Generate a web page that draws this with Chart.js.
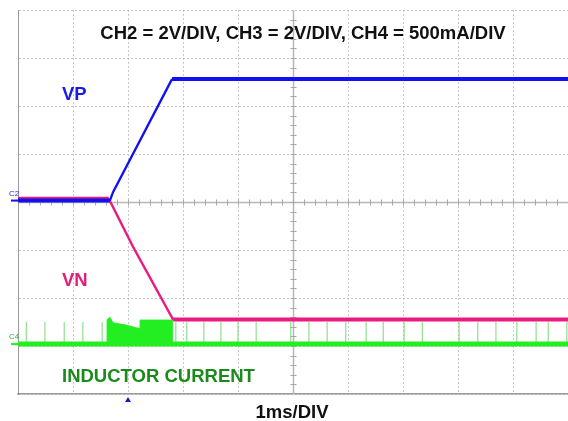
<!DOCTYPE html>
<html>
<head>
<meta charset="utf-8">
<script src="https://cdn.jsdelivr.net/npm/chart.js@4.4.0/dist/chart.umd.min.js"></script>
<style>
  html, body { margin: 0; padding: 0; background: #fff; }
  #scope { display: block; }
</style>
</head>
<body>
<canvas id="scope" width="568" height="421" style="width:568px;height:421px"></canvas>
<script>
// Scope capture, values in divisions (x: 1ms/div, y: centre = 0)
const vpTime  = [0, 1.67, 1.73, 2.80, 10];
const vpLevel = [0.03, 0.03, 0.21, 2.56, 2.56];

const vnTime  = [0, 1.65, 2.09, 2.82, 10];
const vnLevel = [0.07, 0.07, -0.93, -2.45, -2.45];

const ilTime  = [0, 10];
const ilLevel = [-2.96, -2.96];

// switching burst during the ramp
const burstTime  = [1.62, 1.62, 1.67, 1.73, 1.95, 2.18, 2.22, 2.22, 2.80, 2.80];
const burstLevel = [-2.96, -2.45, -2.40, -2.52, -2.56, -2.63, -2.63, -2.46, -2.46, -2.96];

// single switching pulses on the inductor current
const spikeTime = [0.15, 0.49, 0.84, 1.18, 1.53, 2.87, 3.07, 3.38, 3.69, 4.00, 4.33,
                   4.96, 5.29, 5.62, 5.96, 6.33, 6.64, 7.02, 7.35, 8.02, 8.36, 8.69,
                   9.07, 9.42, 9.64, 9.98];
const spikeTop = -2.50;

const titleText = 'CH2 = 2V/DIV, CH3 = 2V/DIV, CH4 = 500mA/DIV';
const timeText = '1ms/DIV';
const vpText = 'VP';
const vnText = 'VN';
const ilText = 'INDUCTOR CURRENT';

const BLUE = '#1010f0';
const PINK = '#ea1a7f';
const GREEN = '#22ee22';

function pts(xs, ys) {
    return xs.map((x, i) => ({ x: x, y: ys[i] }));
}

const spikePts = [];
spikeTime.forEach(t => {
    spikePts.push({ x: t, y: ilLevel[0] });
    spikePts.push({ x: t, y: spikeTop });
    spikePts.push({ x: t, y: null });
});

const FONT = 'bold 18.5px "Liberation Sans", Arial, sans-serif';

const scopeOverlay = {
    id: 'scopeOverlay',
    beforeDatasetsDraw(chart) {
        const { ctx, chartArea: a, scales: { x, y } } = chart;
        const cx = Math.round(x.getPixelForValue(5)) + 0.5;
        const cy = Math.round(y.getPixelForValue(0)) + 0.5;
        ctx.save();
        ctx.strokeStyle = '#b8b8b8';
        ctx.lineWidth = 1.5;
        ctx.beginPath();
        ctx.moveTo(a.left, cy); ctx.lineTo(a.right, cy);
        ctx.moveTo(cx, a.top); ctx.lineTo(cx, a.bottom);
        ctx.stroke();
        ctx.lineWidth = 1;
        ctx.strokeStyle = '#a8a8a8';
        ctx.beginPath();
        for (let i = 1; i < 50; i++) {
            const px = Math.round(x.getPixelForValue(i * 0.2)) + 0.5;
            ctx.moveTo(px, cy - 3); ctx.lineTo(px, cy + 3);
        }
        for (let i = -19; i < 20; i++) {
            const py = Math.round(y.getPixelForValue(i * 0.2)) + 0.5;
            ctx.moveTo(cx - 3, py); ctx.lineTo(cx + 3, py);
        }
        ctx.stroke();

        // channel markers on the left edge
        ctx.lineWidth = 2;
        ctx.strokeStyle = BLUE;
        let py = y.getPixelForValue(vpLevel[0]);
        ctx.beginPath(); ctx.moveTo(11, py); ctx.lineTo(a.left, py); ctx.stroke();
        ctx.strokeStyle = GREEN;
        py = y.getPixelForValue(ilLevel[0]);
        ctx.beginPath(); ctx.moveTo(11, py); ctx.lineTo(a.left, py); ctx.stroke();
        ctx.font = '8px "Liberation Sans", Arial, sans-serif';
        ctx.fillStyle = '#3030d0';
        ctx.fillText('C2', 9, 196);
        ctx.fillStyle = '#30b030';
        ctx.fillText('C4', 9, 339);

        // trigger marker
        const tx = x.getPixelForValue(2);
        ctx.fillStyle = '#1a1ad0';
        ctx.beginPath();
        ctx.moveTo(tx, a.bottom + 3);
        ctx.lineTo(tx - 3, a.bottom + 8);
        ctx.lineTo(tx + 3, a.bottom + 8);
        ctx.closePath();
        ctx.fill();
        ctx.restore();
    },
    afterDatasetsDraw(chart) {
        const { ctx } = chart;
        ctx.save();
        ctx.font = FONT;
        ctx.textBaseline = 'alphabetic';
        ctx.textAlign = 'center';
        ctx.fillStyle = '#111';
        ctx.fillText(titleText, 303, 39);
        ctx.fillText(timeText, 292, 418);
        ctx.textAlign = 'left';
        ctx.fillStyle = '#1a1ae6';
        ctx.fillText(vpText, 62, 100);
        ctx.fillStyle = '#e0207a';
        ctx.fillText(vnText, 62, 286);
        ctx.fillStyle = '#1a8a1a';
        ctx.fillText(ilText, 62, 382);
        ctx.restore();
    }
};

const flatOrRamp = (flat, ramp) => c => (c.p0.parsed.y === c.p1.parsed.y ? flat : ramp);

new Chart(document.getElementById('scope'), {
    type: 'line',
    data: {
        datasets: [
            {
                label: 'VP',
                data: pts(vpTime, vpLevel),
                borderColor: BLUE,
                borderWidth: 3.5,
                segment: { borderWidth: flatOrRamp(4, 2.3) },
                order: 1
            },
            {
                label: 'VN',
                data: pts(vnTime, vnLevel),
                borderColor: PINK,
                borderWidth: 3.5,
                segment: { borderWidth: flatOrRamp(4, 2.3) },
                order: 2
            },
            {
                label: 'IL burst',
                data: pts(burstTime, burstLevel),
                borderColor: GREEN,
                backgroundColor: GREEN,
                borderWidth: 1,
                fill: { value: ilLevel[0] },
                order: 3
            },
            {
                label: 'IL',
                data: pts(ilTime, ilLevel),
                borderColor: GREEN,
                borderWidth: 5,
                order: 4
            },
            {
                label: 'IL pulses',
                data: spikePts,
                borderColor: '#7ad87a',
                borderWidth: 1,
                spanGaps: false,
                order: 5
            }
        ]
    },
    options: {
        responsive: false,
        animation: false,
        devicePixelRatio: 1,
        layout: { padding: { left: 18, top: 10, right: 0, bottom: 27 } },
        elements: { point: { radius: 0 }, line: { tension: 0 } },
        plugins: {
            legend: { display: false },
            tooltip: { enabled: false }
        },
        scales: {
            x: {
                type: 'linear',
                min: 0,
                max: 10,
                ticks: { display: false, stepSize: 1 },
                grid: { color: '#c8c8c8', lineWidth: 1, drawTicks: false },
                border: { display: true, color: '#9a9a9a', width: 1.5, dash: [2, 2] }
            },
            y: {
                type: 'linear',
                min: -4,
                max: 4,
                ticks: { display: false, stepSize: 1 },
                grid: { color: '#c8c8c8', lineWidth: 1, drawTicks: false },
                border: { display: true, color: '#9a9a9a', width: 1, dash: [2, 2] }
            }
        }
    },
    plugins: [scopeOverlay]
});
</script>
</body>
</html>
